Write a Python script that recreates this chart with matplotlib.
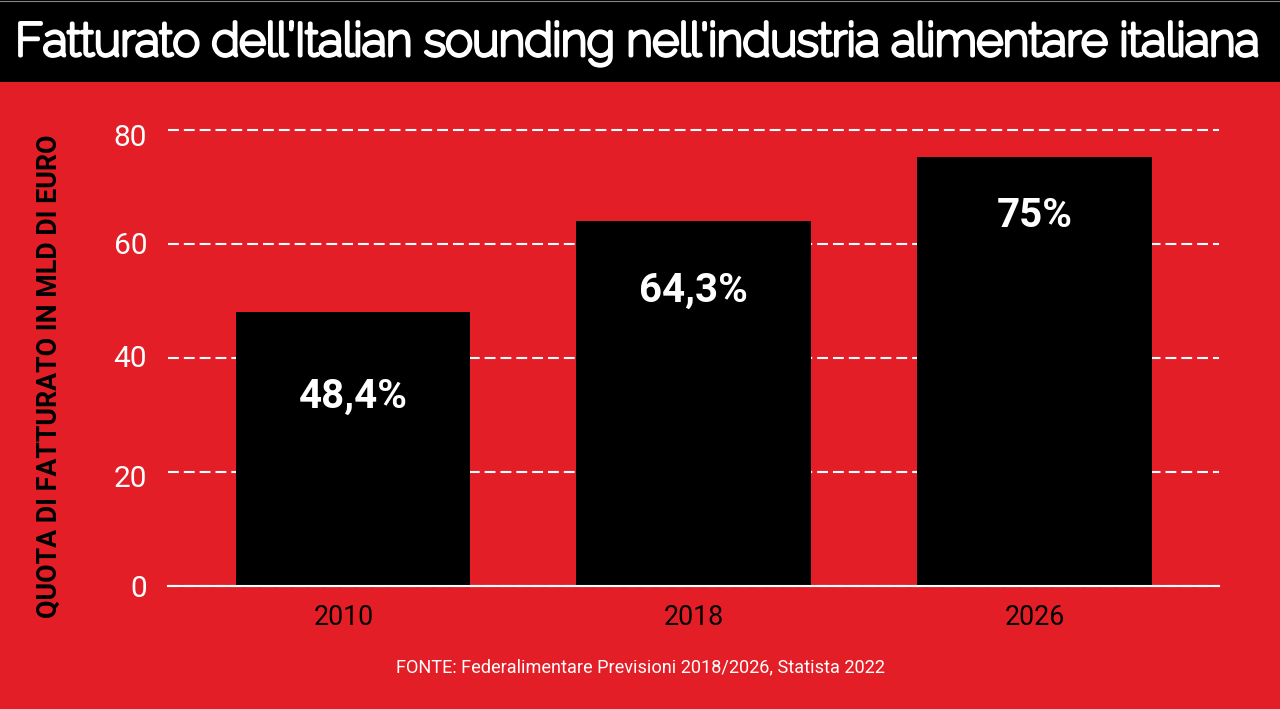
import matplotlib
matplotlib.use('Agg')
import matplotlib.pyplot as plt
import matplotlib.patheffects as pe
from matplotlib.lines import Line2D
from matplotlib.transforms import ScaledTranslation

years = ['2010', '2018', '2026']
values = [48.1, 64.0, 75.3]
labels = ['48,4%', '64,3%', '75%']
label_drop = [85, 70, 59]  # px below bar top
yticks = [0, 20, 40, 60, 80]

red = '#e41e26'
W, H = 1280, 709

plt.rcParams['font.family'] = ['Roboto', 'DejaVu Sans']

fig = plt.figure(figsize=(W/100, H/100), dpi=100, facecolor=red)

# black title band
band = fig.add_axes([0, 1-82/H, 1, 82/H])
band.set_facecolor('black')
band.set_xticks([])
band.set_yticks([])
for s in band.spines.values():
    s.set_visible(False)
fig.add_artist(Line2D([0, 1], [1-0.5/H, 1-0.5/H], color='#888888', linewidth=0.8))
title = fig.text(638/W, 1-44/H, "Fatturato dell’Italian sounding nell'industria alimentare italiana",
                 color='white', fontsize=33, family=['Raleway', 'Lato', 'DejaVu Sans'],
                 ha='center', va='center')
# only the thin cut of Raleway gets picked up, so thicken it
title.set_path_effects([pe.withStroke(linewidth=2.8, foreground='white')])

ax = fig.add_axes([168/W, 1-586/H, (1219-168)/W, (586-130)/H])
ax.set_facecolor(red)
ax.bar(range(3), values, width=0.689, color='black', zorder=3)
ax.set_xlim(-0.5425, 2.54)
ax.set_ylim(0, 80)
ax.set_yticks(yticks)
ax.set_xticks(range(3))
ax.set_xticklabels(years)
ax.grid(axis='y', color='white', linestyle=(0, (5.2, 2.4)), linewidth=1.5, zorder=1, clip_on=False)
ax.set_axisbelow(True)
for name in ['top', 'right', 'left']:
    ax.spines[name].set_visible(False)
ax.spines['bottom'].set_color('white')
ax.spines['bottom'].set_linewidth(1.5)
ax.spines['bottom'].set_zorder(4)
ax.tick_params(axis='y', length=0, labelcolor='white', labelsize=21.5, pad=15)
ax.tick_params(axis='x', length=0, labelcolor='black', labelsize=19.3, pad=13)

# the source nudges a few tick labels by hand
px = fig.dpi_scale_trans
lab_2010 = ax.get_xticklabels()[0]
lab_2010.set_transform(lab_2010.get_transform() + ScaledTranslation(-9.5/100, 0, px))
for lab, dy in zip(ax.get_yticklabels(), [0, -4, 2, 1, -5]):
    lab.set_transform(lab.get_transform() + ScaledTranslation(0, dy/100, px))

for i, (v, lab, drop) in enumerate(zip(values, labels, label_drop)):
    ax.annotate(lab, (i, v), xytext=(0, -drop), textcoords='offset pixels', color='white',
                fontsize=29, fontweight='bold', ha='center', va='center', zorder=5)

fig.text(49.5/W, 1-376/H, 'QUOTA DI FATTURATO IN MLD DI EURO', rotation=90, color='black',
         fontsize=19.3, fontweight='bold', ha='center', va='center')
fig.text(640/W, 1-667/H, 'FONTE: Federalimentare Previsioni 2018/2026, Statista 2022',
         color='white', fontsize=13.1, ha='center', va='center')

fig.savefig('out.png', dpi=100, facecolor=red)
